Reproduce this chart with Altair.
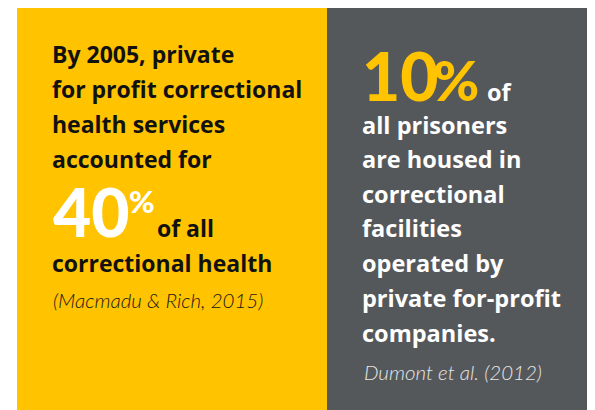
import altair as alt
import pandas as pd

# ---------------- content ----------------
panels = ["left", "right"]
panel_colors = ["#FFC300", "#55585B"]

left_lines = ["By 2005, private", "for profit correctional", "health services",
              "accounted for", "of all", "correctional health"]
left_rows = [0, 1, 2, 3, 5, 6]
left_big = "40"
left_big_suffix = "%"
left_source = "(Macmadu & Rich, 2015)"

right_big = "10"
right_big_suffix = "%"
right_lines = ["of", "all prisoners", "are housed in", "correctional",
               "facilities", "operated by", "private for-profit", "companies."]
right_rows = [1.07, 2.03, 3, 4, 5, 6, 7, 8]
right_source = "Dumont et al. (2012)"

# ---------------- layout (page pixel coordinates) ----------------
OFF = 8
W, H = 579, 402
LEFT_X, RIGHT_X = 52, 362
ROW0, ROWH = 63.3, 34.8  # baseline of first row, row pitch

panel_df = pd.DataFrame({
    "panel": panels,
    "x0": [17, 327], "x1": [327, 600],
    "r0": [-2.0, -2.0], "r1": [11.0, 11.0],
})

body_x = [LEFT_X] * len(left_lines) + [RIGHT_X] * len(right_lines)
body_x[4] = 157                 # "of all" after the big 40%
body_x[len(left_lines)] = 487   # "of" after the big 10%
body_df = pd.DataFrame({
    "text": left_lines + right_lines,
    "row": left_rows + right_rows,
    "x": body_x,
    "panel": ["left"] * len(left_lines) + ["right"] * len(right_lines),
})
big_df = pd.DataFrame({"text": [left_big, right_big], "row": [5, 1.07],
                       "x": [LEFT_X + 1, RIGHT_X], "panel": panels})
sup_df = pd.DataFrame({"text": [left_big_suffix, right_big_suffix],
                       "row": [4.3, 1.07], "x": [129, 433], "panel": panels})
src_df = pd.DataFrame({"text": [left_source, right_source], "row": [7.04, 9.1],
                       "x": [LEFT_X + 1, RIGHT_X + 2], "panel": panels})

# y scale: row index -> page baseline
y_top = (OFF - ROW0) / ROWH
y_bot = (OFF + H - ROW0) / ROWH
xs = alt.Scale(domain=[OFF, OFF + W], nice=False, zero=False)
ys = alt.Scale(domain=[y_top, y_bot], reverse=True, nice=False, zero=False)
xenc = alt.X("x:Q", scale=xs, axis=None)
yenc = alt.Y("row:Q", scale=ys, axis=None)

bg = alt.Chart(panel_df).mark_rect().encode(
    x=alt.X("x0:Q", scale=xs, axis=None),
    x2="x1:Q",
    y=alt.Y("r0:Q", scale=ys, axis=None),
    y2="r1:Q",
    color=alt.Color("panel:N", scale=alt.Scale(domain=panels, range=panel_colors), legend=None),
)


def txt(df, panel, font="Lato", **kw):
    return alt.Chart(df).transform_filter(alt.datum.panel == panel).mark_text(
        align="left", baseline="alphabetic", font=font, **kw
    ).encode(x=xenc, y=yenc, text="text:N")


BODY = "Open Sans"
body_l = txt(body_df, "left", font=BODY, fontSize=23, fontWeight="bold", color="#111111")
body_r = txt(body_df, "right", font=BODY, fontSize=23.5, fontWeight="bold", color="#FFFFFF")
big_l = txt(big_df, "left", fontSize=66, fontWeight=900, color="#FFFFFF")
big_r = txt(big_df, "right", fontSize=66, fontWeight=900, color="#FFC300")
sup_l = txt(sup_df, "left", fontSize=31, fontWeight=900, color="#FFFFFF")
sup_r = txt(sup_df, "right", fontSize=56, fontWeight=900, color="#FFC300")
src_l = txt(src_df, "left", fontSize=20.5, fontWeight=300, fontStyle="italic", color="#1A1A1A")
src_r = txt(src_df, "right", fontSize=20.5, fontWeight=300, fontStyle="italic", color="#E6E6E6")

chart = alt.layer(bg, body_l, body_r, big_l, big_r, sup_l, sup_r, src_l, src_r).properties(
    width=W, height=H, padding=0, autosize=alt.AutoSizeParams(type="none"),
    background="#FFFFFF",
).configure_view(stroke=None)

chart.save("out.html", embed_options={"renderer": "svg", "actions": False})
